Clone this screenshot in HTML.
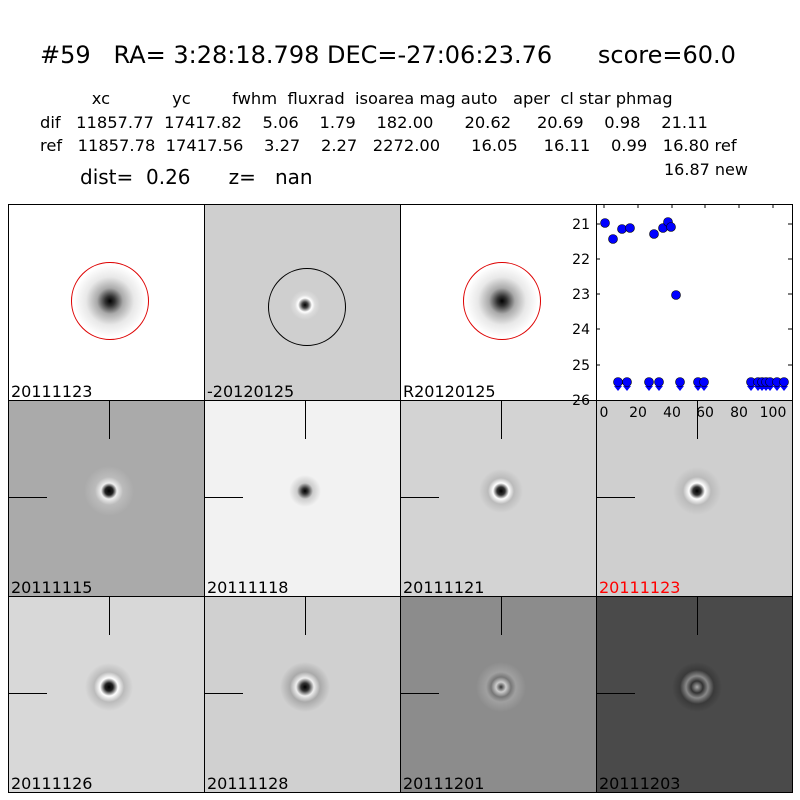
<!DOCTYPE html><html><head><style>
body{margin:0;width:800px;height:800px;background:#fff;position:relative;font-family:"DejaVu Sans","Liberation Sans",sans-serif;overflow:hidden}
.t{position:absolute;white-space:pre;color:#000}
.p{position:absolute;width:195px;height:195px;border:1px solid #000;box-sizing:content-box;overflow:hidden}
.lb{position:absolute;left:2px;bottom:-1px;font-size:16px}
.v{position:absolute;left:100px;top:0;width:1px;height:38px;background:#000}
.h{position:absolute;left:0;top:96px;width:38px;height:1px;background:#000}
.b{position:absolute;left:75px;top:65px;width:50px;height:50px;border-radius:50%}
</style></head><body>
<div class="t" style="left:40px;top:41px;font-size:24px">#59   RA= 3:28:18.798 DEC=-27:06:23.76      score=60.0</div>
<div class="t" style="left:40px;top:89px;font-size:16.3px">          xc            yc        fwhm  fluxrad  isoarea mag auto   aper  cl star phmag</div>
<div class="t" style="left:40px;top:113px;font-size:16.3px">dif   11857.77  17417.82    5.06    1.79    182.00      20.62     20.69    0.98    21.11</div>
<div class="t" style="left:40px;top:136px;font-size:16.3px">ref   11857.78  17417.56    3.27    2.27   2272.00      16.05     16.11    0.99   16.80 ref</div>
<div class="t" style="left:664px;top:160px;font-size:16px">16.87 new</div>
<div class="t" style="left:80px;top:165px;font-size:20px">dist=  0.26      z=   nan</div>

<div class="p" style="left:8px;top:204px;background:#fff">
<div style="position:absolute;left:62px;top:57px;width:78px;height:78px;border-radius:50%;border:1.5px solid #d00;box-sizing:border-box;background:radial-gradient(circle,#000 0,#333 5px,#aaa 13px,#e8e8e8 24px,#fff 36px)"></div>
<div class="lb">20111123</div></div>
<div class="p" style="left:204px;top:204px;background:#cfcfcf">
<div style="position:absolute;left:63px;top:63px;width:78px;height:78px;border-radius:50%;border:1px solid #000;box-sizing:border-box"></div>
<div style="position:absolute;left:85px;top:85px;width:30px;height:30px;border-radius:50%;background:radial-gradient(circle,#000 0,#444 3px,#fff 7px,#ddd 10px,#cfcfcf 15px)"></div>
<div class="lb">-20120125</div></div>
<div class="p" style="left:400px;top:204px;background:#fff">
<div style="position:absolute;left:62px;top:57px;width:78px;height:78px;border-radius:50%;border:1.5px solid #d00;box-sizing:border-box;background:radial-gradient(circle,#000 0,#333 5px,#aaa 13px,#e8e8e8 24px,#fff 36px)"></div>
<div class="lb">R20120125</div></div>

<div class="p" style="left:8px;top:400px;background:#aaa"><div class="b" style="background:radial-gradient(circle,#000 0,#222 4px,#eee 8px,#bbb 14px,#aaa 25px)"></div><div class="v"></div><div class="h"></div><div class="lb">20111115</div></div>
<div class="p" style="left:204px;top:400px;background:#f2f2f2"><div class="b" style="background:radial-gradient(circle,#000 0,#333 3px,#ccc 8px,#f2f2f2 16px)"></div><div class="v"></div><div class="h"></div><div class="lb">20111118</div></div>
<div class="p" style="left:400px;top:400px;background:#d3d3d3"><div class="b" style="background:radial-gradient(circle,#000 0,#333 4px,#fff 8px,#bbb 13px,#d3d3d3 22px)"></div><div class="v"></div><div class="h"></div><div class="lb">20111121</div></div>
<div class="p" style="left:596px;top:400px;background:#cfcfcf"><div class="b" style="background:radial-gradient(circle,#000 0,#333 4px,#fff 8px,#bbb 14px,#cfcfcf 24px)"></div><div class="v"></div><div class="h"></div><div class="lb" style="color:#f00">20111123</div></div>

<div class="p" style="left:8px;top:596px;background:#d8d8d8"><div class="b" style="background:radial-gradient(circle,#000 0,#222 4px,#fff 9px,#bbb 15px,#d8d8d8 24px)"></div><div class="v"></div><div class="h"></div><div class="lb">20111126</div></div>
<div class="p" style="left:204px;top:596px;background:#d0d0d0"><div class="b" style="background:radial-gradient(circle,#000 0,#333 4px,#eee 9px,#aaa 15px,#d0d0d0 25px)"></div><div class="v"></div><div class="h"></div><div class="lb">20111128</div></div>
<div class="p" style="left:400px;top:596px;background:#8c8c8c"><div class="b" style="background:radial-gradient(circle,#333 0,#ccc 5px,#777 10px,#a0a0a0 15px,#8c8c8c 25px)"></div><div class="v"></div><div class="h"></div><div class="lb">20111201</div></div>
<div class="p" style="left:596px;top:596px;background:#4a4a4a"><div class="b" style="background:radial-gradient(circle,#aaa 0,#333 6px,#888 11px,#3a3a3a 17px,#4a4a4a 25px)"></div><div class="v"></div><div class="h"></div><div class="lb">20111203</div></div>

<svg style="position:absolute;left:0;top:0;z-index:5" width="800" height="800">
<rect x="596.5" y="204.5" width="196" height="196" fill="#fff" stroke="#000"/>
<g stroke="#000">
<line x1="792" y1="224" x2="788" y2="224"/><line x1="792" y1="259" x2="788" y2="259"/><line x1="792" y1="294" x2="788" y2="294"/><line x1="792" y1="329" x2="788" y2="329"/><line x1="792" y1="365" x2="788" y2="365"/>
<line x1="596" y1="224" x2="600" y2="224"/><line x1="596" y1="259" x2="600" y2="259"/><line x1="596" y1="294" x2="600" y2="294"/><line x1="596" y1="329" x2="600" y2="329"/><line x1="596" y1="365" x2="600" y2="365"/>
<line x1="604" y1="204" x2="604" y2="208"/><line x1="638" y1="204" x2="638" y2="208"/><line x1="672" y1="204" x2="672" y2="208"/><line x1="705" y1="204" x2="705" y2="208"/><line x1="739" y1="204" x2="739" y2="208"/><line x1="773" y1="204" x2="773" y2="208"/>
</g>
<g fill="#00f" stroke="#000" stroke-width="0.6">
<circle cx="605" cy="223" r="4.5"/><circle cx="613" cy="239" r="4.5"/><circle cx="622" cy="229" r="4.5"/><circle cx="630" cy="228" r="4.5"/><circle cx="654" cy="234" r="4.5"/><circle cx="663" cy="228" r="4.5"/><circle cx="668" cy="222" r="4.5"/><circle cx="671" cy="227" r="4.5"/><circle cx="676" cy="295" r="4.5"/>
</g>
<g fill="#00f"><path d="M614,386h8l-4,5z M623,386h8l-4,5z M645,386h8l-4,5z M655,386h8l-4,5z M676,386h8l-4,5z M694,386h8l-4,5z M700,386h8l-4,5z M747,386h8l-4,5z M754,386h8l-4,5z M758,386h8l-4,5z M762,386h8l-4,5z M766,386h8l-4,5z M773,386h8l-4,5z M780,386h8l-4,5z"/></g>
<g fill="#00f" stroke="#000" stroke-width="0.6">
<circle cx="618" cy="382" r="4.5"/><circle cx="627" cy="382" r="4.5"/><circle cx="649" cy="382" r="4.5"/><circle cx="659" cy="382" r="4.5"/><circle cx="680" cy="382" r="4.5"/><circle cx="698" cy="382" r="4.5"/><circle cx="704" cy="382" r="4.5"/><circle cx="751" cy="382" r="4.5"/><circle cx="758" cy="382" r="4.5"/><circle cx="762" cy="382" r="4.5"/><circle cx="766" cy="382" r="4.5"/><circle cx="770" cy="382" r="4.5"/><circle cx="777" cy="382" r="4.5"/><circle cx="784" cy="382" r="4.5"/>
</g>
<g font-size="14" font-family="DejaVu Sans,Liberation Sans,sans-serif" text-anchor="end">
<text x="590" y="229">21</text><text x="590" y="264">22</text><text x="590" y="299">23</text><text x="590" y="334">24</text><text x="590" y="370">25</text><text x="590" y="405">26</text>
</g>
<g font-size="14" font-family="DejaVu Sans,Liberation Sans,sans-serif" text-anchor="middle">
<text x="604" y="417">0</text><text x="638" y="417">20</text><text x="672" y="417">40</text><text x="705" y="417">60</text><text x="739" y="417">80</text><text x="773" y="417">100</text>
</g>
</svg>
</body></html>
